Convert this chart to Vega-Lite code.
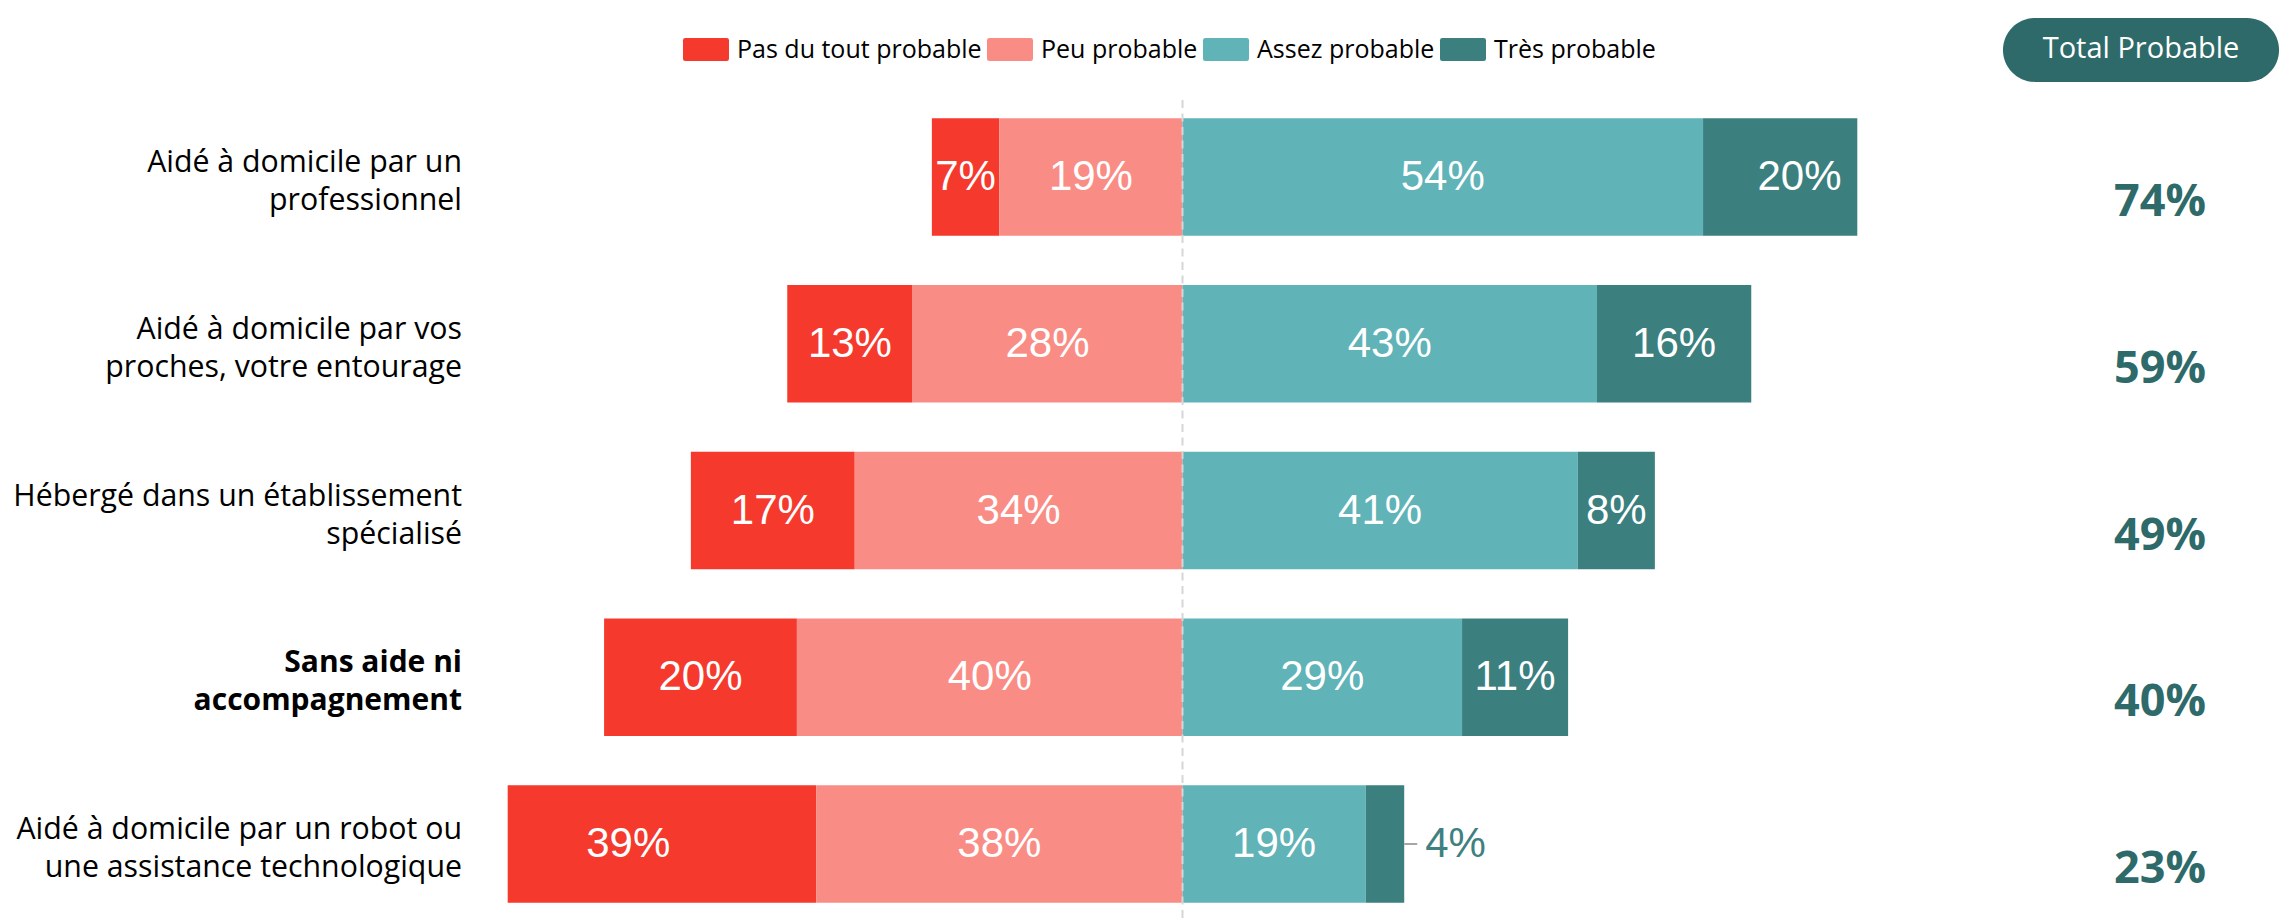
{
  "$schema": "https://vega.github.io/schema/vega-lite/v6.json",
  "width": 1349.6,
  "height": 821,
  "autosize": "none",
  "padding": {"left": 507.7, "top": 100, "right": 437.7, "bottom": 0},
  "background": "white",
  "config": {"view": {"stroke": null}},
  "datasets": {
    "reponses": [
      {"item": "Aidé à domicile par un\nprofessionnel", "categorie": "Pas du tout probable", "valeur": 0.07},
      {"item": "Aidé à domicile par un\nprofessionnel", "categorie": "Peu probable", "valeur": 0.19},
      {"item": "Aidé à domicile par un\nprofessionnel", "categorie": "Assez probable", "valeur": 0.54},
      {"item": "Aidé à domicile par un\nprofessionnel", "categorie": "Très probable", "valeur": 0.20},
      {"item": "Aidé à domicile par vos\nproches, votre entourage", "categorie": "Pas du tout probable", "valeur": 0.13},
      {"item": "Aidé à domicile par vos\nproches, votre entourage", "categorie": "Peu probable", "valeur": 0.28},
      {"item": "Aidé à domicile par vos\nproches, votre entourage", "categorie": "Assez probable", "valeur": 0.43},
      {"item": "Aidé à domicile par vos\nproches, votre entourage", "categorie": "Très probable", "valeur": 0.16},
      {"item": "Hébergé dans un établissement\nspécialisé", "categorie": "Pas du tout probable", "valeur": 0.17},
      {"item": "Hébergé dans un établissement\nspécialisé", "categorie": "Peu probable", "valeur": 0.34},
      {"item": "Hébergé dans un établissement\nspécialisé", "categorie": "Assez probable", "valeur": 0.41},
      {"item": "Hébergé dans un établissement\nspécialisé", "categorie": "Très probable", "valeur": 0.08},
      {"item": "Sans aide ni\naccompagnement", "categorie": "Pas du tout probable", "valeur": 0.20},
      {"item": "Sans aide ni\naccompagnement", "categorie": "Peu probable", "valeur": 0.40},
      {"item": "Sans aide ni\naccompagnement", "categorie": "Assez probable", "valeur": 0.29},
      {"item": "Sans aide ni\naccompagnement", "categorie": "Très probable", "valeur": 0.11},
      {"item": "Aidé à domicile par un robot ou\nune assistance technologique", "categorie": "Pas du tout probable", "valeur": 0.39},
      {"item": "Aidé à domicile par un robot ou\nune assistance technologique", "categorie": "Peu probable", "valeur": 0.38},
      {"item": "Aidé à domicile par un robot ou\nune assistance technologique", "categorie": "Assez probable", "valeur": 0.19},
      {"item": "Aidé à domicile par un robot ou\nune assistance technologique", "categorie": "Très probable", "valeur": 0.04}
    ],
    "entete": [{"t": "Total Probable"}]
  },
  "data": {"name": "reponses"},
  "transform": [
    {"calculate": "indexof(['Pas du tout probable','Peu probable'], datum.categorie) >= 0 ? -datum.valeur : datum.valeur", "as": "signe"},
    {"calculate": "indexof(['Peu probable','Pas du tout probable','Assez probable','Très probable'], datum.categorie)", "as": "rang"},
    {"stack": "signe", "groupby": ["item"], "sort": [{"field": "rang", "order": "ascending"}], "as": ["x0", "x1"]},
    {"calculate": "(datum.x0 + datum.x1) / 2", "as": "xm"}
  ],
  "encoding": {
    "y": {
      "field": "item",
      "type": "nominal",
      "sort": [
        "Aidé à domicile par un\nprofessionnel",
        "Aidé à domicile par vos\nproches, votre entourage",
        "Hébergé dans un établissement\nspécialisé",
        "Sans aide ni\naccompagnement",
        "Aidé à domicile par un robot ou\nune assistance technologique"
      ],
      "axis": null,
      "scale": {"paddingInner": 0.296, "paddingOuter": 0.1097}
    }
  },
  "layer": [
    {
      "mark": {"type": "bar", "clip": true},
      "encoding": {
        "x": {"field": "x0", "type": "quantitative", "scale": {"domain": [-0.7, 0.7], "nice": false, "zero": false}, "axis": null},
        "x2": {"field": "x1"},
        "color": {
          "field": "categorie",
          "type": "nominal",
          "scale": {
            "domain": ["Pas du tout probable", "Peu probable", "Assez probable", "Très probable"],
            "range": ["#F5392D", "#F98D86", "#60B3B7", "#3B7F7F"]
          },
          "legend": {
            "orient": "none",
            "legendX": 175.3,
            "legendY": -73.5,
            "direction": "horizontal",
            "title": null,
            "padding": 0,
            "symbolType": "M-0.9,-0.5H0.9Q1,-0.5 1,-0.4V0.4Q1,0.5 0.9,0.5H-0.9Q-1,0.5 -1,0.4V-0.4Q-1,-0.5 -0.9,-0.5Z",
            "symbolSize": 2116,
            "symbolStrokeWidth": 0,
            "symbolOpacity": 1,
            "labelFont": "Open Sans",
            "labelFontSize": 25,
            "labelColor": "#000000",
            "labelOffset": 8,
            "labelLimit": 400,
            "columnPadding": 5
          }
        }
      }
    },
    {
      "data": {"values": [{"zero": 0}]},
      "mark": {"type": "rule", "color": "#d6d6d6", "strokeWidth": 2, "strokeDash": [8, 5.5]},
      "encoding": {"x": {"field": "zero", "type": "quantitative"}, "y": null}
    },
    {
      "transform": [{"filter": "!(datum.categorie == 'Très probable' && datum.valeur < 0.05)"}],
      "mark": {"type": "text", "font": "Liberation Sans", "fontSize": 42, "color": "white", "align": "center", "baseline": "middle"},
      "encoding": {
        "x": {"field": "xm", "type": "quantitative"},
        "text": {"field": "valeur", "type": "quantitative", "format": ".0%"}
      }
    },
    {
      "transform": [{"filter": "datum.categorie == 'Très probable' && datum.valeur < 0.05"}],
      "mark": {"type": "text", "font": "Liberation Sans", "fontSize": 42, "color": "#3F8080", "align": "left", "baseline": "middle", "dx": 21},
      "encoding": {
        "x": {"field": "x1", "type": "quantitative"},
        "text": {"field": "valeur", "type": "quantitative", "format": ".0%"}
      }
    },
    {
      "transform": [{"filter": "datum.categorie == 'Très probable' && datum.valeur < 0.05"}],
      "mark": {"type": "rule", "color": "#a6a6a6", "strokeWidth": 2, "x2Offset": 13},
      "encoding": {
        "x": {"field": "x1", "type": "quantitative"},
        "x2": {"field": "x1"}
      }
    },
    {
      "transform": [
        {"filter": "datum.categorie == 'Assez probable' || datum.categorie == 'Très probable'"},
        {"aggregate": [{"op": "sum", "field": "valeur", "as": "total"}], "groupby": ["item"]}
      ],
      "layer": [
        {
          "transform": [{"filter": "indexof(datum.item, 'Sans aide') != 0"}],
          "mark": {"type": "text", "font": "Open Sans", "fontSize": 30.3, "color": "#000000", "align": "right", "baseline": "middle", "lineBreak": "\n", "lineHeight": 38, "dy": -14},
          "encoding": {"x": {"datum": -0.7474}, "text": {"field": "item"}}
        },
        {
          "transform": [{"filter": "indexof(datum.item, 'Sans aide') == 0"}],
          "mark": {"type": "text", "font": "Open Sans", "fontSize": 30, "fontWeight": "bold", "color": "#000000", "align": "right", "baseline": "middle", "lineBreak": "\n", "lineHeight": 38, "dy": -14},
          "encoding": {"x": {"datum": -0.7474}, "text": {"field": "item"}}
        },
        {
          "mark": {"type": "text", "font": "Open Sans", "fontSize": 45, "fontWeight": "bold", "color": "#2E6A69", "align": "center", "baseline": "middle", "dy": 25},
          "encoding": {"x": {"datum": 1.014}, "text": {"field": "total", "type": "quantitative", "format": ".0%"}}
        }
      ]
    },
    {
      "data": {"name": "entete"},
      "mark": {"type": "bar", "height": 64, "cornerRadius": 32, "color": "#2E6A69", "yOffset": -127},
      "encoding": {
        "x": {"datum": 0.8511},
        "x2": {"datum": 1.1375},
        "y": {"datum": "Aidé à domicile par un\nprofessionnel"}
      }
    },
    {
      "data": {"name": "entete"},
      "mark": {"type": "text", "font": "Open Sans", "fontSize": 29, "color": "white", "align": "center", "baseline": "middle", "dy": -128},
      "encoding": {
        "x": {"datum": 0.9943},
        "y": {"datum": "Aidé à domicile par un\nprofessionnel"},
        "text": {"field": "t"}
      }
    }
  ]
}
